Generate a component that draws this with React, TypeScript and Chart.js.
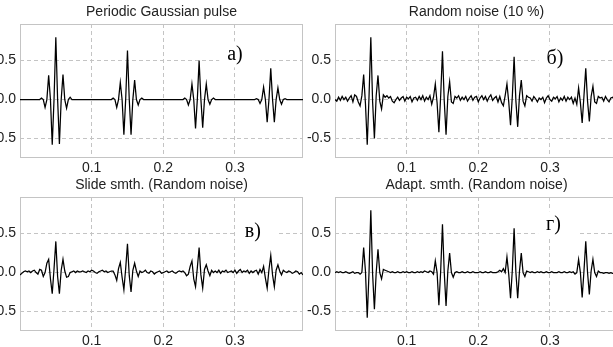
import React, { useEffect, useRef } from 'react';
import { Chart, registerables } from 'chart.js';

Chart.register(...registerables);

// ---- data ----
const STEP = 0.0025; // sample spacing (s)
const X_MIN = 0;
const X_MAX = 0.395;
const Y_MIN = -0.75;
const Y_MAX = 0.97;
const X_TICKS = [0.1, 0.2, 0.3];
const Y_TICKS = [-0.5, 0, 0.5];

const TITLES = [
  'Periodic Gaussian pulse',
  'Random noise (10 %)',
  'Slide smth. (Random noise)',
  'Adapt. smth. (Random noise)',
];
const PANEL_LABELS = ['а)', 'б)', 'в)', 'г)'];

const pulseClean = [
  0, 0, 0, 0, 0, 0, 0, 0, 0, 0, 0, 0,
  0.02, 0, -0.10, 0, 0.31, 0, -0.58, 0, 0.80, 0, -0.57, 0, 0.32, 0, -0.11, 0, 0.03,
  0, 0, 0, 0, 0, 0, 0, 0, 0, 0, 0, 0, 0, 0, 0, 0, 0, 0, 0, 0, 0, 0, 0,
  0.02, 0, -0.10, 0, 0.22, 0, -0.45, 0, 0.63, 0, -0.45, 0, 0.25, 0, -0.07, 0, 0.02,
  0, 0, 0, 0, 0, 0, 0, 0, 0, 0, 0, 0, 0, 0, 0, 0, 0, 0, 0, 0, 0, 0, 0,
  0.02, 0, -0.07, 0, 0.20, 0, -0.37, 0, 0.50, 0, -0.36, 0, 0.20, 0, -0.06, 0, 0.02,
  0, 0, 0, 0, 0, 0, 0, 0, 0, 0, 0, 0, 0, 0, 0, 0, 0, 0, 0, 0, 0, 0, 0,
  0.01, 0, -0.05, 0, 0.16, 0, -0.29, 0, 0.40, 0, -0.29, 0, 0.15, 0, -0.06, 0, 0.01,
  0, 0, 0, 0, 0, 0, 0, 0, 0, 0,
];

const pulseNoisy = [
  0.0, -0.02, 0.03, -0.01, 0.04, 0.0, 0.03, -0.02, 0.02, 0.05, -0.03, 0.06,
  0.04, -0.03, -0.08, 0.05, 0.32, -0.05, -0.58, 0.04, 0.80, -0.03, -0.50, 0.05, 0.31, -0.02, -0.12, 0.06, 0.03,
  0.05, 0.02, 0.04, -0.02, -0.04, 0.0, 0.03, -0.01, 0.02, 0.04, -0.02, 0.03, 0.01, 0.04, -0.03, 0.02, 0.03, -0.01, 0.04, 0.0, 0.05, -0.02, 0.03,
  0.0, 0.05, -0.06, 0.03, 0.20, -0.04, -0.42, 0.05, 0.62, -0.02, -0.45, 0.04, 0.23, -0.03, -0.05, 0.04, 0.02,
  0.05, -0.01, 0.03, 0.0, 0.04, -0.02, 0.02, 0.05, -0.01, 0.03, 0.04, -0.03, 0.02, 0.05, 0.0, 0.04, -0.02, 0.03, 0.06, -0.01, 0.02, 0.04, -0.03,
  0.04, -0.04, -0.08, 0.05, 0.20, -0.03, -0.33, 0.04, 0.55, -0.02, -0.35, 0.05, 0.25, -0.02, -0.08, 0.05, 0.03,
  0.02, -0.02, 0.04, 0.01, -0.03, 0.02, 0.0, 0.03, -0.04, 0.02, 0.05, 0.0, -0.02, 0.03, 0.01, 0.04, -0.03, 0.02, -0.01, 0.04, -0.02, 0.03, 0.0,
  0.03, -0.05, 0.02, -0.06, 0.15, -0.04, -0.30, 0.05, 0.40, -0.02, -0.28, 0.04, 0.17, -0.03, -0.05, 0.04, 0.02,
  0.03, -0.02, 0.04, 0.0, -0.03, 0.02, 0.03, -0.01, 0.0, -0.02,
];

const slideSmoothed = [
  -0.03, -0.01, 0.01, 0.02, 0.01, 0.02, 0.0, 0.02, 0.03, 0.0, -0.02, 0.04,
  0.03, -0.05, 0.0, 0.12, 0.17, -0.08, -0.27, 0.05, 0.40, -0.05, -0.27, 0.03, 0.17, 0.02, -0.06, -0.05, 0.0,
  0.01, 0.02, 0.0, 0.02, 0.01, 0.01, 0.02, 0.01, 0.0, 0.02, 0.01, 0.03, 0.02, 0.0, -0.01, 0.01, 0.02, 0.03, 0.01, 0.02, 0.0, 0.01, 0.02,
  0.02, -0.03, -0.10, 0.05, 0.13, -0.06, -0.22, 0.05, 0.37, -0.04, -0.25, 0.03, 0.12, 0.02, -0.05, 0.02, 0.0,
  0.01, 0.03, 0.0, -0.01, 0.02, 0.01, -0.02, 0.0, 0.01, 0.02, -0.01, 0.0, 0.01, 0.02, 0.0, 0.01, 0.02, 0.0, -0.01, 0.01, 0.02, 0.01, 0.02,
  0.0, -0.04, -0.02, 0.08, 0.15, -0.08, -0.18, 0.06, 0.32, -0.03, -0.20, 0.04, 0.10, 0.02, -0.04, 0.03, 0.0,
  0.02, 0.0, 0.03, -0.01, 0.02, 0.01, 0.03, 0.0, 0.01, 0.02, 0.0, 0.03, -0.01, 0.02, 0.04, 0.0, 0.02, 0.01, 0.03, -0.01, 0.02, 0.0, 0.02,
  0.03, -0.02, 0.04, 0.0, 0.08, -0.07, -0.20, 0.04, 0.22, -0.03, -0.18, 0.03, 0.10, 0.02, -0.03, 0.03, 0.01,
  0.0, 0.02, 0.01, -0.01, 0.0, 0.02, 0.01, -0.02, 0.0, -0.03,
];

const adaptSmoothed = [
  0.0, 0.01, 0.0, 0.01, 0.0, 0.0, 0.01, 0.0, -0.01, 0.0, 0.01, -0.01,
  0.0, 0.0, -0.02, 0.0, 0.32, 0.02, -0.58, 0.0, 0.80, -0.02, -0.47, 0.0, 0.30, 0.0, -0.08, 0.04, 0.03,
  0.02, 0.01, 0.0, 0.01, 0.0, 0.0, 0.01, 0.0, 0.0, 0.01, 0.0, 0.01, 0.0, 0.0, 0.01, 0.0, 0.0, 0.01, 0.0, 0.01, 0.0, 0.02, 0.01,
  0.0, 0.02, 0.01, -0.02, 0.15, 0.0, -0.42, 0.02, 0.62, 0.0, -0.43, 0.02, 0.25, 0.0, -0.06, 0.0, 0.01,
  0.0, 0.0, 0.01, 0.0, 0.0, 0.01, 0.0, 0.0, 0.01, 0.0, 0.0, 0.0, 0.01, 0.0, 0.0, 0.01, 0.0, 0.0, 0.01, 0.0, 0.0, 0.0, 0.01,
  0.03, 0.01, 0.05, 0.0, 0.20, -0.02, -0.33, 0.03, 0.57, 0.0, -0.33, 0.02, 0.25, 0.0, -0.05, 0.02, 0.01,
  0.0, 0.01, 0.0, 0.0, 0.01, 0.0, 0.01, 0.0, 0.0, 0.01, 0.0, 0.0, 0.01, 0.0, 0.0, 0.0, 0.01, 0.0, 0.0, 0.01, 0.0, 0.0, 0.01,
  0.0, 0.01, -0.02, 0.0, 0.17, 0.0, -0.32, 0.02, 0.40, 0.0, -0.28, 0.02, 0.17, 0.0, -0.05, 0.02, 0.0,
  0.0, -0.01, 0.0, 0.0, -0.01, 0.0, -0.01, -0.01, 0.0, -0.01,
];

// ---- layout / style ----
const FONT = 'Liberation Sans, Arial, sans-serif';
const GRID = '#c4c4c4';
const Y_AXIS_W = 30;
const X_AXIS_H = 18;
const PAD_TOP = 24;
const CANVAS_W = 315;
const CANVAS_H = 176;

type PanelDef = {
  title: string;
  label: string;
  values: number[];
  left: number;
  top: number;
  labelX: number; // data coords of label centre
  labelY: number;
};

const PANELS: PanelDef[] = [
  { title: TITLES[0], label: PANEL_LABELS[0], values: pulseClean, left: -10, top: 0, labelX: 0.300, labelY: 0.58 },
  { title: TITLES[1], label: PANEL_LABELS[1], values: pulseNoisy, left: 305, top: 0, labelX: 0.307, labelY: 0.53 },
  { title: TITLES[2], label: PANEL_LABELS[2], values: slideSmoothed, left: -10, top: 173, labelX: 0.325, labelY: 0.53 },
  { title: TITLES[3], label: PANEL_LABELS[3], values: adaptSmoothed, left: 305, top: 173, labelX: 0.305, labelY: 0.62 },
];

function Panel({ def }: { def: PanelDef }) {
  const ref = useRef<HTMLCanvasElement | null>(null);
  useEffect(() => {
    if (!ref.current) return;
    const decor = {
      id: 'decor',
      beforeDatasetsDraw(chart: any) {
        const { ctx, chartArea, scales } = chart;
        // label box + label
        ctx.save();
        ctx.font = '20px "Liberation Serif", "Times New Roman", serif';
        const tw = ctx.measureText(def.label).width;
        const cx = scales.x.getPixelForValue(def.labelX);
        const cy = scales.y.getPixelForValue(def.labelY);
        const tl = cx - tw / 2;
        ctx.fillStyle = '#ffffff';
        ctx.fillRect(tl - 8, cy - 13, tw + 26, 26);
        ctx.fillStyle = '#000000';
        ctx.textAlign = 'left';
        ctx.textBaseline = 'middle';
        ctx.fillText(def.label, tl, cy);
        ctx.restore();
        // frame
        ctx.save();
        ctx.strokeStyle = GRID;
        ctx.lineWidth = 1;
        ctx.strokeRect(
          Math.round(chartArea.left) + 0.5,
          Math.round(chartArea.top) + 0.5,
          Math.round(chartArea.right - chartArea.left) - 1,
          Math.round(chartArea.bottom - chartArea.top) - 1,
        );
        ctx.restore();
      },
      afterDraw(chart: any) {
        const { ctx, chartArea } = chart;
        ctx.save();
        ctx.font = '14px ' + FONT;
        ctx.fillStyle = '#222222';
        ctx.textAlign = 'center';
        ctx.textBaseline = 'middle';
        ctx.fillText(def.title, (chartArea.left + chartArea.right) / 2, chartArea.top - 12);
        ctx.restore();
      },
    };

    const chart = new Chart(ref.current, {
      type: 'line',
      data: {
        datasets: [
          {
            data: def.values.map((v, i) => ({ x: i * STEP, y: v })),
            borderColor: '#000000',
            borderWidth: 1.25,
            pointRadius: 0,
            tension: 0,
            fill: false,
          },
        ],
      },
      options: {
        animation: false,
        responsive: false,
        events: [],
        layout: { padding: { top: PAD_TOP, right: 2, left: 0, bottom: 0 } },
        plugins: {
          legend: { display: false },
          tooltip: { enabled: false },
          title: { display: false },
        },
        scales: {
          x: {
            type: 'linear',
            min: X_MIN,
            max: X_MAX,
            afterBuildTicks: (axis: any) => {
              axis.ticks = X_TICKS.map((v) => ({ value: v }));
            },
            afterFit: (axis: any) => {
              axis.height = X_AXIS_H;
            },
            ticks: {
              autoSkip: false,
              maxRotation: 0,
              padding: 2,
              color: '#222222',
              font: { family: FONT, size: 14 },
              callback: (v: any) => Number(v).toFixed(1),
            },
            grid: { color: GRID, drawTicks: false, lineWidth: 1 },
            border: { display: false, dash: [4, 3] },
          },
          y: {
            type: 'linear',
            min: Y_MIN,
            max: Y_MAX,
            afterBuildTicks: (axis: any) => {
              axis.ticks = Y_TICKS.map((v) => ({ value: v }));
            },
            afterFit: (axis: any) => {
              axis.width = Y_AXIS_W;
            },
            ticks: {
              autoSkip: false,
              padding: 4,
              color: '#222222',
              font: { family: FONT, size: 14 },
              callback: (v: any) => Number(v).toFixed(1),
            },
            grid: { color: GRID, drawTicks: false, lineWidth: 1 },
            border: { display: false, dash: [4, 3] },
          },
        },
      },
      plugins: [decor],
    } as any);
    return () => chart.destroy();
  }, [def]);

  return (
    <canvas
      ref={ref}
      width={CANVAS_W}
      height={CANVAS_H}
      style={{ position: 'absolute', left: def.left, top: def.top, width: CANVAS_W, height: CANVAS_H }}
    />
  );
}

export default function App() {
  return (
    <div
      style={{
        position: 'fixed',
        left: 0,
        top: 0,
        width: 613,
        height: 347,
        overflow: 'hidden',
        background: '#ffffff',
      }}
    >
      {PANELS.map((p, i) => (
        <Panel key={i} def={p} />
      ))}
    </div>
  );
}
